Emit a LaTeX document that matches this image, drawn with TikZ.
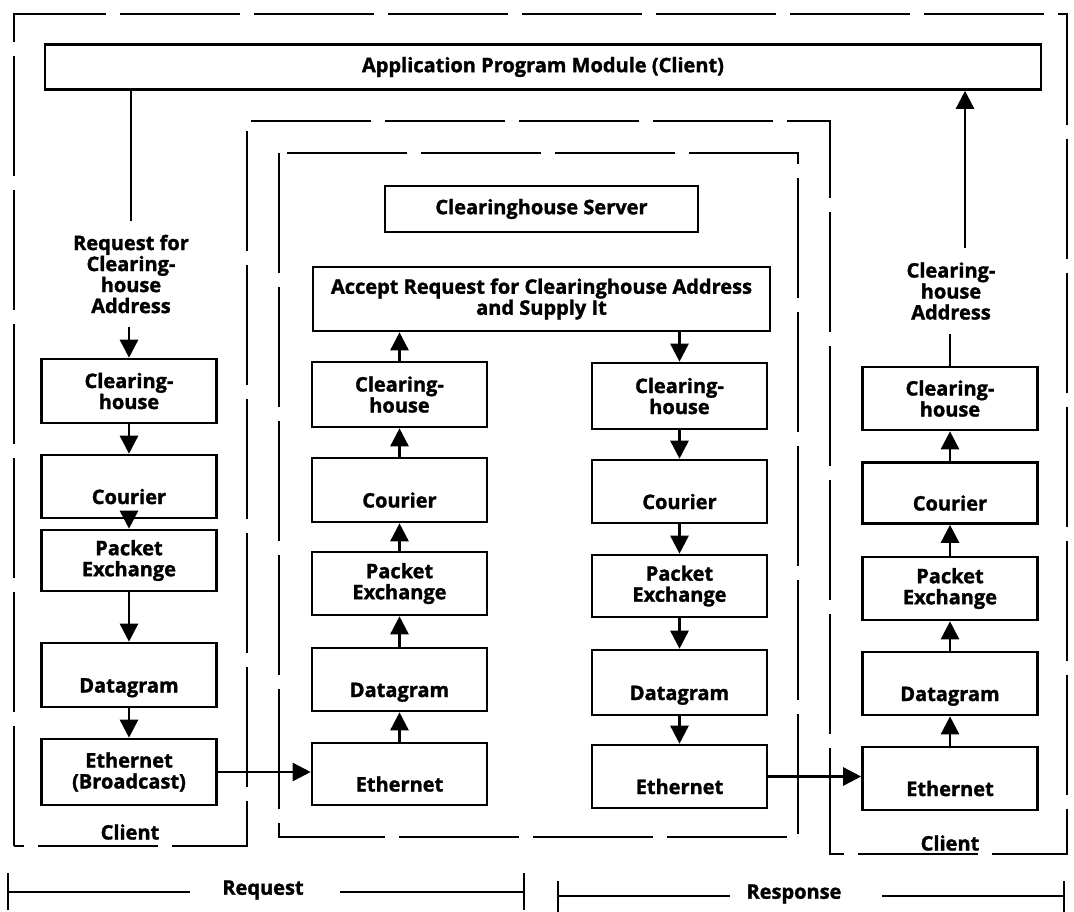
\documentclass[tikz,border=0pt]{standalone}
\usepackage{fontspec}
\setmainfont{Open Sans}[BoldFeatures={FakeBold=1.5}]
\usetikzlibrary{arrows.meta}
\newcommand\lbl{\fontsize{20}{21}\selectfont\bfseries}
\begin{document}
\begin{tikzpicture}[x=1pt,y=-1pt,
  blk/.style={draw, line width=2.6pt, inner sep=0pt, align=center, font=\lbl, minimum width=175},
  low/.style={text height=40pt, text depth=5pt},
  txt/.style={inner sep=0pt, align=center, font=\lbl},
  arr/.style={line width=2.6pt, -{Triangle[length=18pt,width=18pt]}},
  ln/.style={line width=2.6pt},
  bound/.style={line width=2.8pt, dash pattern=on 120pt off 14pt},
  bar/.style={line width=2.2pt}]
\useasboundingbox (0,0) rectangle (1074,911);

% boundaries
\draw[bound] (14,846) -- (14,14) -- (1067,14) -- (1067,854) -- (830,854) -- (830,121) -- (247,121) -- (247,846) -- cycle;
\draw[bound] (279,153) rectangle (798,837);

% top boxes
\node[blk, minimum width=996, minimum height=45] (app) at (543,67) {Application Program Module (Client)};
\node[blk, minimum width=313, minimum height=46] (srv) at (541.5,209) {Clearinghouse Server};
\node[blk, minimum width=457, minimum height=64] (acc) at (541.5,299) {Accept Request for Clearinghouse Address\\and Supply It};

% left client column
\node[txt, inner ysep=14pt] (lreq) at (131,274) {Request for\\Clearing-\\house\\Address};
\node[blk, minimum height=64] (lch) at (129,391) {Clearing-\\house};
\node[blk, low, minimum height=63] (lco) at (129,486.5) {Courier};
\node[blk, minimum height=61] (lpe) at (129,560.5) {Packet\\Exchange};
\node[blk, low, minimum height=64] (ldg) at (129,675) {Datagram};
\node[blk, minimum height=66] (leth) at (129,772) {Ethernet\\(Broadcast)};
\node[txt] (lcl) at (130,832) {Client};

% server left column
\node[blk, minimum height=65] (mlch) at (399.5,394.5) {Clearing-\\house};
\node[blk, low, minimum height=64] (mlco) at (399.5,490) {Courier};
\node[blk, minimum height=63] (mlpe) at (399.5,583.5) {Packet\\Exchange};
\node[blk, low, minimum height=63] (mldg) at (399.5,679.5) {Datagram};
\node[blk, low, minimum height=62] (mleth) at (399.5,774) {Ethernet};

% server right column
\node[blk, minimum height=66] (mrch) at (679.5,396) {Clearing-\\house};
\node[blk, low, minimum height=63] (mrco) at (679.5,491.5) {Courier};
\node[blk, minimum height=62] (mrpe) at (679.5,586) {Packet\\Exchange};
\node[blk, low, minimum height=65] (mrdg) at (679.5,682.5) {Datagram};
\node[blk, low, minimum height=63] (mreth) at (679.5,776.5) {Ethernet};

% right client column
\node[txt, inner ysep=14pt] (rlab) at (951,291) {Clearing-\\house\\Address};
\node[blk, minimum height=63] (rch) at (950,398.5) {Clearing-\\house};
\node[blk, low, minimum height=61] (rco) at (950,493) {Courier};
\node[blk, minimum height=63] (rpe) at (950,588.5) {Packet\\Exchange};
\node[blk, low, minimum height=63] (rdg) at (950,683.5) {Datagram};
\node[blk, low, minimum height=63] (reth) at (950,778.5) {Ethernet};
\node[txt] (rcl) at (950,843) {Client};

% left client connectors
\draw[ln] (app.south -| lreq.north) -- (lreq.north);
\draw[arr] (lreq.south -| lch.north) -- (lch.north);
\draw[arr] (lch) -- (lco);
\draw[arr] (lco) -- (lpe);
\draw[arr] (lpe) -- (ldg);
\draw[arr] (ldg) -- (leth);
\draw[arr] (leth.east) -- (leth.east -| mleth.west);

% server left connectors (upward)
\draw[arr] (mleth) -- (mldg);
\draw[arr] (mldg) -- (mlpe);
\draw[arr] (mlpe) -- (mlco);
\draw[arr] (mlco) -- (mlch);
\draw[arr] (mlch.north) -- (mlch.north |- acc.south);

% server right connectors (downward)
\draw[arr] (mrch.north |- acc.south) -- (mrch.north);
\draw[arr] (mrch) -- (mrco);
\draw[arr] (mrco) -- (mrpe);
\draw[arr] (mrpe) -- (mrdg);
\draw[arr] (mrdg) -- (mreth);
\draw[arr] (mreth.east) -- (mreth.east -| reth.west);

% right client connectors (upward)
\draw[arr] (reth) -- (rdg);
\draw[arr] (rdg) -- (rpe);
\draw[arr] (rpe) -- (rco);
\draw[arr] (rco) -- (rch);
\draw[ln] (rch.north) -- (rch.north |- rlab.south);
\draw[arr] ([xshift=14pt]rlab.north) -- ([xshift=14pt]rlab.north |- app.south);

% request / response bars
\node[txt] (rqt) at (263,890) {Request};
\coordinate (rqa) at (8,892);
\coordinate (rqa2) at (190,892);
\coordinate (rqb2) at (340,892);
\coordinate (rqb) at (524,892);
\draw[bar] (rqa) -- (rqa2);
\draw[bar] (rqb2) -- (rqb);
\draw[bar] ([yshift=-18pt]rqa) -- ([yshift=19pt]rqa);
\draw[bar] ([yshift=-18pt]rqb) -- ([yshift=19pt]rqb);

\node[txt] (rst) at (794,894) {Response};
\coordinate (rsa) at (558,896);
\coordinate (rsa2) at (730,896);
\coordinate (rsb2) at (882,896);
\coordinate (rsb) at (1064,896);
\draw[bar] (rsa) -- (rsa2);
\draw[bar] (rsb2) -- (rsb);
\draw[bar] ([yshift=-18pt]rsa) -- ([yshift=15pt]rsa);
\draw[bar] ([yshift=-18pt]rsb) -- ([yshift=15pt]rsb);
\end{tikzpicture}
\end{document}
